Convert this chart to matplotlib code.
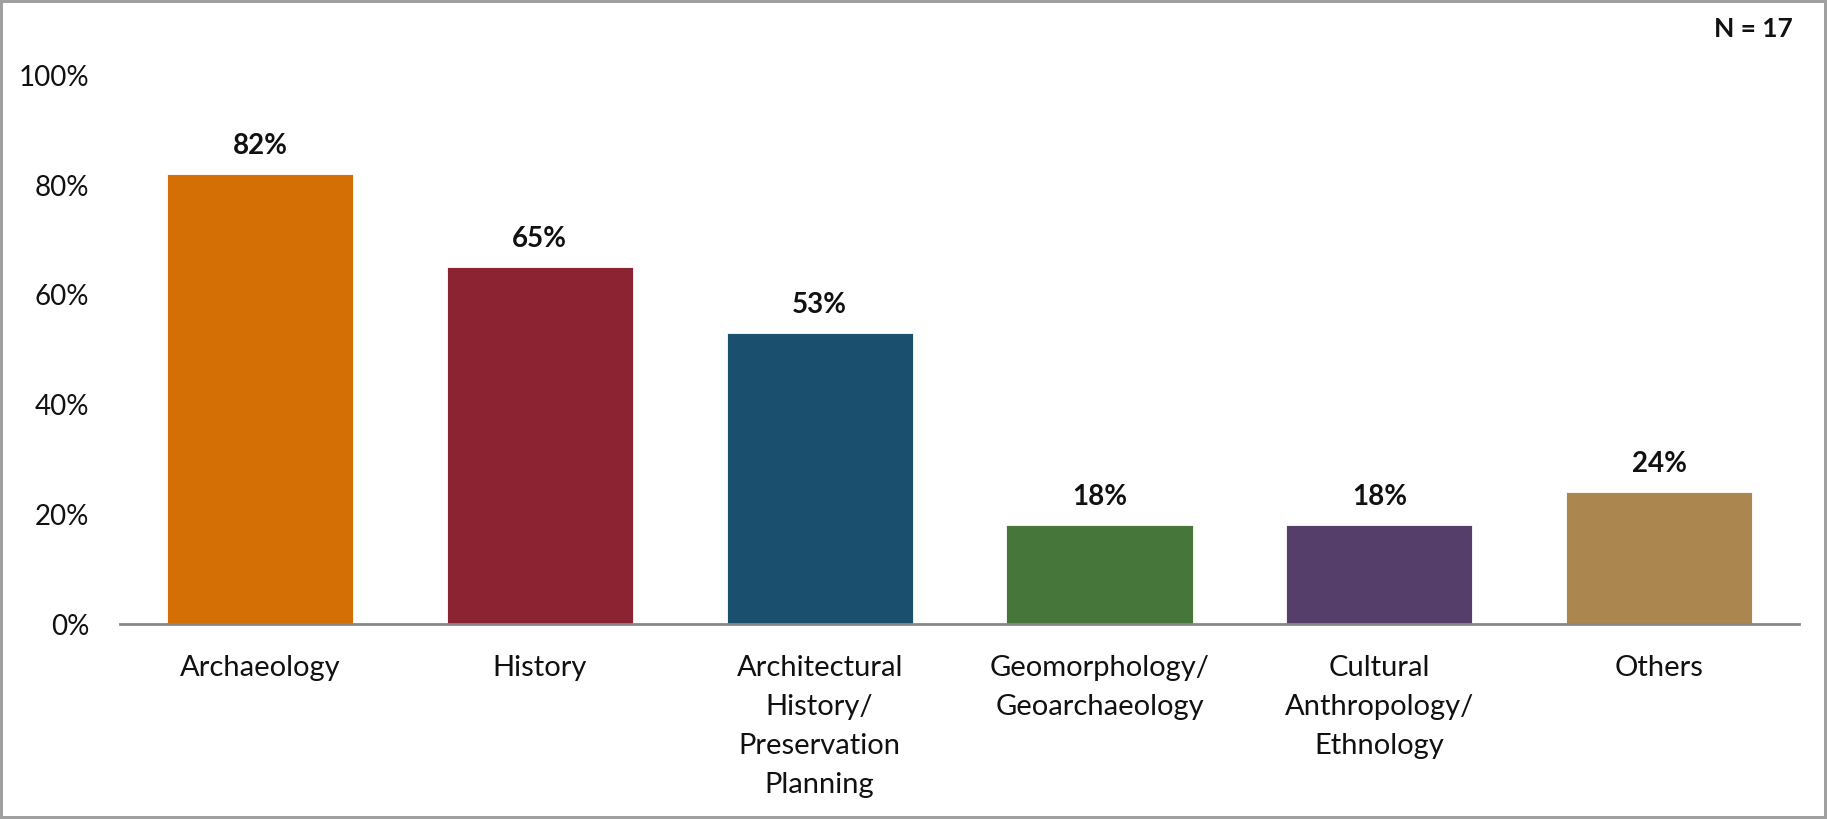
import matplotlib.pyplot as plt
from matplotlib.ticker import PercentFormatter

categories = [
    "Archaeology",
    "History",
    "Architectural\nHistory/\nPreservation\nPlanning",
    "Geomorphology/\nGeoarchaeology",
    "Cultural\nAnthropology/\nEthnology",
    "Others",
]
shares = [0.82, 0.65, 0.53, 0.18, 0.18, 0.24]
colors = ["#D46F05", "#8B2332", "#1B4F6E", "#46763A", "#553F6A", "#AC864F"]
y_ticks = [0, 0.2, 0.4, 0.6, 0.8, 1.0]
n_label = "N = 17"

plt.rcParams["font.family"] = ["Lato", "DejaVu Sans"]

fig = plt.figure(figsize=(18.27, 8.19), dpi=100)
fig.patch.set_edgecolor("#A0A0A0")
fig.patch.set_linewidth(3)
ax = fig.add_axes([0.0657, 0.238, 0.919, 0.670])

x = range(len(categories))
ax.bar(x, shares, width=0.665, color=colors, edgecolor="white", linewidth=0.6, zorder=2)

for xi, v in zip(x, shares):
    ax.annotate(f"{v:.0%}", (xi, v), xytext=(0, 11), textcoords="offset points",
                ha="center", va="bottom", fontsize=20, fontweight="bold", color="#111111")

ax.set_xlim(-0.5, len(categories) - 0.5)
ax.set_ylim(0, 1.0)
ax.set_yticks(y_ticks)
ax.yaxis.set_major_formatter(PercentFormatter(1.0, decimals=0))
ax.set_xticks(list(x))
ax.set_xticklabels(categories, fontsize=21, linespacing=1.62, color="#111111")
ax.tick_params(axis="y", length=0, pad=22, labelsize=20, labelcolor="#111111")
ax.tick_params(axis="x", length=0, pad=22)

for side in ["left", "right", "top"]:
    ax.spines[side].set_visible(False)
ax.spines["bottom"].set_color("#888888")
ax.spines["bottom"].set_linewidth(2)

fig.text(0.981, 0.965, n_label, ha="right", va="center", fontsize=19, fontweight="bold", color="#111111")

fig.savefig("out.png", dpi=100, edgecolor=fig.get_edgecolor())
